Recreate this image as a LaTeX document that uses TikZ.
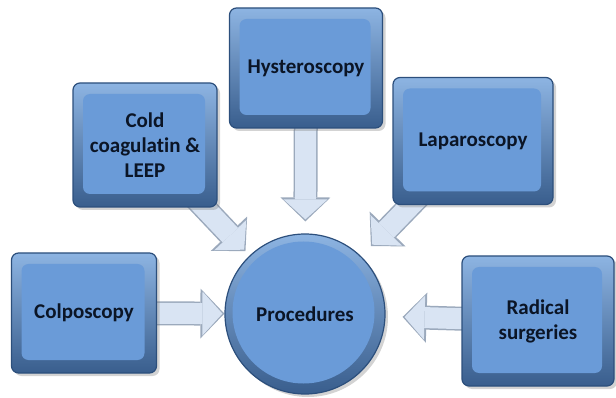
\documentclass[tikz,border=0pt]{standalone}
\usepackage{fontspec}
\setmainfont{Carlito}[Ligatures=NoCommon]
\usepackage{xcolor}
\usepackage{tikz}
\usetikzlibrary{positioning,%
  arrows.meta,%
  shadows,%
  calc
}

\definecolor{panelblue}{HTML}{6A9BD8}
\definecolor{frameblue}{HTML}{4C7DBC}
\definecolor{frametop}{HTML}{8DB4E2}
\definecolor{framedark}{HTML}{2C4F7C}
\definecolor{arrowfill}{HTML}{D9E4F3}
\definecolor{arrowedge}{HTML}{9BA9BC}
\definecolor{labelink}{HTML}{0B1526}

\pgfdeclarelayer{background}
\pgfsetlayers{background,main}

\tikzset{
  panel/.style={rectangle, rounded corners=7pt, draw=framedark, line width=1.2pt,
    top color=frametop, bottom color=frameblue!75!black,
    drop shadow={shadow xshift=3pt, shadow yshift=-3pt, opacity=0.35},
    align=center, text=labelink, font=\bfseries\fontsize{21}{25}\selectfont,
    path picture={
      \fill[panelblue] ([shift={(10pt,-11pt)}]path picture bounding box.north west)
        rectangle ([shift={(-12pt,13pt)}]path picture bounding box.south east);
    }},
  hub/.style={circle, minimum size=160pt, draw=framedark, line width=1.2pt,
    top color=frametop, bottom color=frameblue!75!black,
    drop shadow={shadow xshift=3pt, shadow yshift=-3pt, opacity=0.35},
    text=labelink, font=\bfseries\fontsize{21}{25}\selectfont,
    path picture={
      \fill[panelblue] ([shift={(-1.5pt,1.5pt)}]path picture bounding box.center) circle (71pt);
    }},
  feed/.style={line width=24pt, draw=arrowedge,
    -{Triangle[length=24pt,width=50pt,line width=0pt]}},
  feedin/.style={line width=21pt, draw=arrowfill,
    -{Triangle[length=20pt,width=44pt,line width=0pt]}}
}

\begin{document}
\begin{tikzpicture}[x=1pt,y=-1pt]
  \useasboundingbox (0,0) rectangle (616,398);

  % the five procedures and the hub
  \node[hub] (proc) at (305,314) {Procedures};
  \node[panel, minimum width=145pt, minimum height=120pt] (colpo) at (84,313) {Colposcopy};
  \node[panel, minimum width=144pt, minimum height=124pt] (cold) at (145,145) {Cold\\coagulatin \&\\LEEP};
  \node[panel, minimum width=153pt, minimum height=120pt] (hyst) at (306,68) {Hysteroscopy};
  \node[panel, minimum width=160pt, minimum height=127pt] (lapa) at (473,141) {Laparoscopy};
  \node[panel, minimum width=152pt, minimum height=130pt] (radi) at (538,321) {Radical\\surgeries};

  % block arrows behind the boxes
  \begin{pgfonlayer}{background}
    \draw[feed] (colpo.center) -- (proc);
    \draw[feedin, shorten >=2pt] (colpo.center) -- (proc);
    \draw[feed, shorten >=6pt] (cold.center) -- (proc);
    \draw[feedin, shorten >=8pt] (cold.center) -- (proc);
    \draw[feed, shorten >=12pt] (hyst.center) -- (proc);
    \draw[feedin, shorten >=14pt] (hyst.center) -- (proc);
    \draw[feed, shorten >=14pt] (lapa.center) -- (proc);
    \draw[feedin, shorten >=16pt] (lapa.center) -- (proc);
    \draw[feed, shorten >=17pt] (radi.center) -- (proc);
    \draw[feedin, shorten >=19pt] (radi.center) -- (proc);
  \end{pgfonlayer}
\end{tikzpicture}
\end{document}
